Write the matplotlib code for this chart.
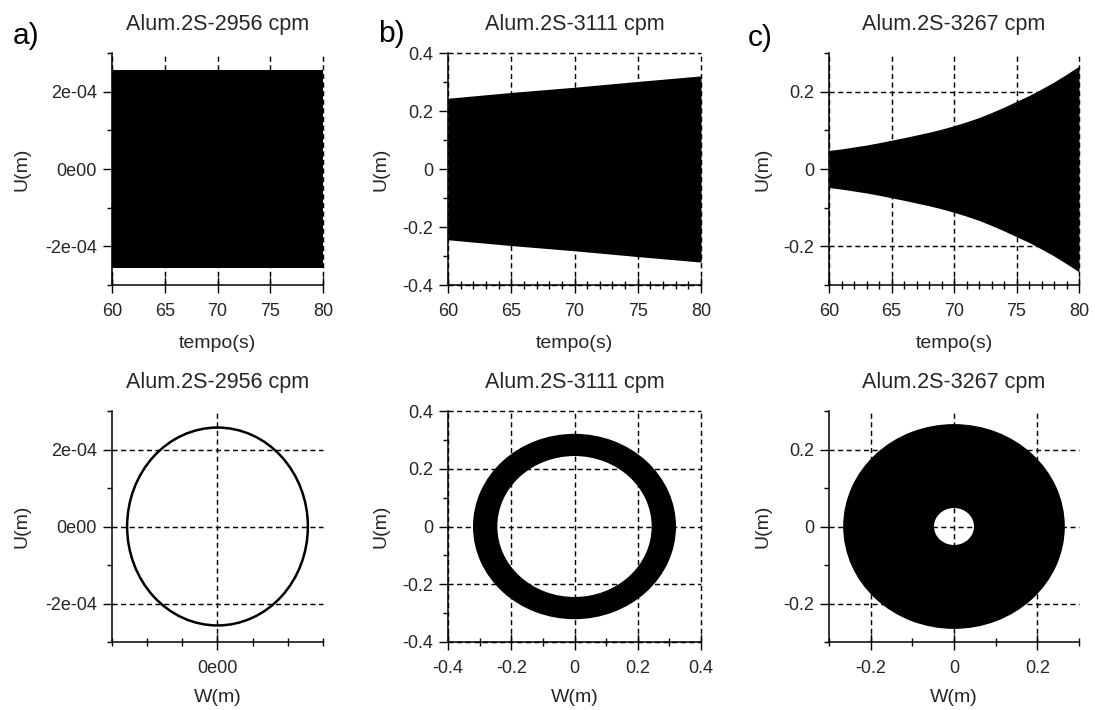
import matplotlib
matplotlib.use("Agg")
import matplotlib.pyplot as plt
from matplotlib.patches import Ellipse, Wedge
from matplotlib.transforms import blended_transform_factory

plt.rcParams['font.family'] = ['Liberation Sans', 'DejaVu Sans']
plt.rcParams['axes.unicode_minus'] = False

TEXT = '#262626'

# ---- data -------------------------------------------------------------
titles = ["Alum.2S-2956 cpm", "Alum.2S-3111 cpm", "Alum.2S-3267 cpm"]
panel_tags = ["a)", "b)", "c)"]

# amplitude envelope of U(t) over the 60-80 s window (m)
t_a = [60, 65, 70, 75, 80]
amp_a = [2.57e-4, 2.57e-4, 2.57e-4, 2.57e-4, 2.57e-4]
t_b = [60, 65, 70, 75, 80]
amp_b = [0.244, 0.264, 0.282, 0.302, 0.321]
t_c = [60, 61, 62, 63, 64, 65, 66, 67, 68, 69, 70,
       71, 72, 73, 74, 75, 76, 77, 78, 79, 80]
amp_c = [0.048, 0.052, 0.057, 0.062, 0.068, 0.0745, 0.081, 0.088, 0.095, 0.103, 0.112,
         0.122, 0.133, 0.146, 0.160, 0.175, 0.190, 0.207, 0.225, 0.245, 0.266]

time_ticks = [60, 65, 70, 75, 80]
time_ticklabels = ["60", "65", "70", "75", "80"]
time_minor = [61, 62, 63, 64, 66, 67, 68, 69, 71, 72, 73, 74, 76, 77, 78, 79]

a_ticks = [-2e-4, 0, 2e-4]
a_ticklabels = ["-2e-04", "0e00", "2e-04"]
a_minor = [-3e-4, -1e-4, 1e-4, 3e-4]
aw_ticks = [0]
aw_ticklabels = ["0e00"]
aw_minor = [-3e-4, -2e-4, -1e-4, 1e-4, 2e-4, 3e-4]
a_lim = (-3e-4, 3e-4)

b_ticks = [-0.4, -0.2, 0, 0.2, 0.4]
b_ticklabels = ["-0.4", "-0.2", "0", "0.2", "0.4"]
b_minor = [-0.3, -0.1, 0.1, 0.3]
b_lim = (-0.4, 0.4)

c_ticks = [-0.2, 0, 0.2]
c_ticklabels = ["-0.2", "0", "0.2"]
c_minor = [-0.3, -0.1, 0.1, 0.3]
c_lim = (-0.3, 0.3)

# ---- layout (pixels) -------------------------------------------------
W, H = 1095, 710
fig = plt.figure(figsize=(W / 100, H / 100), dpi=100)

cols_x = [(112, 323), (448, 701), (829, 1079)]
rows_y = [(53, 285), (411, 642)]
ylabel_x = [22, 381, 763]
xlabel_y = [343, 698]
tag_pos = [(13, 36), (378, 34), (748, 38)]


def make_axes(col, row):
    x0, x1 = cols_x[col]
    y0, y1 = rows_y[row]
    ax = fig.add_axes([x0 / W, 1 - y1 / H, (x1 - x0) / W, (y1 - y0) / H])
    return ax


def style(ax, row, col, xlabel):
    ax.set_axisbelow(True)
    for s in ('top', 'right'):
        ax.spines[s].set_visible(False)
    for s in ('left', 'bottom'):
        ax.spines[s].set_linewidth(1.1)
        ax.spines[s].set_color('black')
    ax.tick_params(axis='x', which='major', direction='inout', length=11.5,
                   width=1.0, pad=7.4, labelsize=13, labelcolor=TEXT)
    ax.tick_params(axis='x', which='minor', direction='inout', length=5.5,
                   width=1.0)
    ax.tick_params(axis='y', which='major', direction='out', length=6.5,
                   width=1.0, pad=4.3, labelsize=13, labelcolor=TEXT)
    ax.tick_params(axis='y', which='minor', direction='out', length=3.6,
                   width=1.0)
    ax.grid(True, which='major', color='black', linewidth=1.05,
            linestyle=(0, (3.5, 2.4)))
    for gl in ax.get_xgridlines() + ax.get_ygridlines():
        gl.set_clip_on(False)
    ax.set_title(titles[col], fontsize=15.5, color=TEXT, pad=16.5)
    ax.set_ylabel("U(m)", fontsize=14, color=TEXT, va='center')
    ax.yaxis.set_label_coords(ylabel_x[col] / W, 0.5,
                              transform=blended_transform_factory(fig.transFigure, ax.transAxes))
    ax.set_xlabel(xlabel, fontsize=14, color=TEXT, va='center')
    ax.xaxis.set_label_coords(0.5, 1 - xlabel_y[row] / H,
                              transform=blended_transform_factory(ax.transAxes, fig.transFigure))


envelopes = [(t_a, amp_a), (t_b, amp_b), (t_c, amp_c)]
u_ticks = [(a_ticks, a_ticklabels, a_minor, a_lim),
           (b_ticks, b_ticklabels, b_minor, b_lim),
           (c_ticks, c_ticklabels, c_minor, c_lim)]
w_ticks = [(aw_ticks, aw_ticklabels, aw_minor, a_lim),
           (b_ticks, b_ticklabels, b_minor, b_lim),
           (c_ticks, c_ticklabels, c_minor, c_lim)]

for col in range(3):
    t, amp = envelopes[col]
    yt, ytl, ymin, ylim = u_ticks[col]

    # time history: the oscillation fills the band between +/- envelope
    ax = make_axes(col, 0)
    ax.fill_between(t, [-v for v in amp], amp, color='black', lw=0, zorder=2)
    ax.set_xlim(60, 80)
    ax.set_ylim(*ylim)
    ax.set_xticks(time_ticks)
    ax.set_xticklabels(time_ticklabels)
    if col > 0:
        ax.set_xticks(time_minor, minor=True)
    ax.set_yticks(yt)
    ax.set_yticklabels(ytl)
    ax.set_yticks(ymin, minor=True)
    style(ax, 0, col, "tempo(s)")

    # orbit W-U: radius sweeps from the smallest to the largest envelope value
    ax = make_axes(col, 1)
    r_out, r_in = max(amp), min(amp)
    if col == 0:
        ax.add_patch(Ellipse((0, 0), 2 * r_out, 2 * r_out, fill=False,
                             ec='black', lw=1.8, zorder=2))
    else:
        ax.add_patch(Wedge((0, 0), r_out, 0, 360, width=r_out - r_in,
                           fc='black', ec='none', zorder=2))
    xt, xtl, xmin, xlim = w_ticks[col]
    ax.set_xlim(*xlim)
    ax.set_ylim(*ylim)
    ax.set_xticks(xt)
    ax.set_xticklabels(xtl)
    ax.set_xticks(xmin, minor=True)
    ax.set_yticks(yt)
    ax.set_yticklabels(ytl)
    ax.set_yticks(ymin, minor=True)
    style(ax, 1, col, "W(m)")

for tag, (px, py) in zip(panel_tags, tag_pos):
    fig.text(px / W, 1 - py / H, tag, fontsize=21.5, color='black',
             ha='left', va='center')

fig.savefig("out.png", dpi=100)
